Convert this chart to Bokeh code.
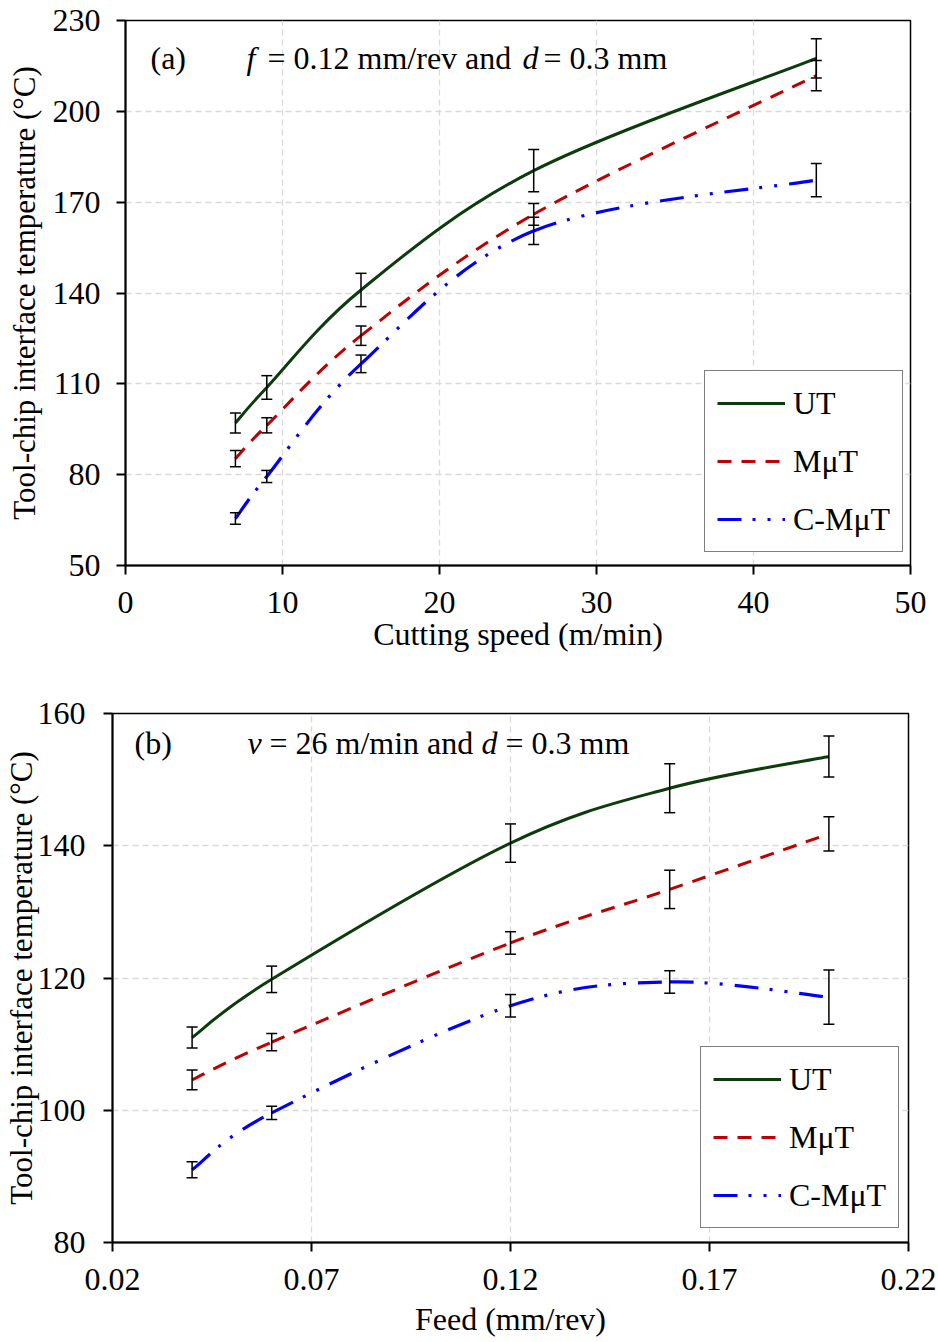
import numpy as np
from bokeh.plotting import figure
from bokeh.models import Range1d, FixedTicker, ColumnDataSource, Whisker, TeeHead, Label
from bokeh.embed import file_html
from bokeh.resources import INLINE

# ---------------- data ----------------
# (a) cutting speed series
speed = [7, 9, 15, 26, 44]
a_ut = [97.1, 108.8, 141.0, 180.4, 217.5]
a_ut_err = [3.3, 3.9, 5.5, 7.0, 6.5]
a_mut = [85.3, 96.3, 125.9, 166.0, 211.8]
a_mut_err = [2.7, 2.5, 3.2, 3.6, 5.0]
a_cmut = [65.5, 79.4, 116.6, 160.5, 177.3]
a_cmut_err = [1.9, 2.0, 2.9, 4.5, 5.5]

# (b) feed series
feed = [0.04, 0.06, 0.12, 0.16, 0.20]
b_ut = [111.0, 119.8, 140.4, 148.7, 153.5]
b_ut_err = [1.6, 2.0, 2.9, 3.7, 3.1]
b_mut = [104.6, 110.3, 125.3, 133.4, 141.8]
b_mut_err = [1.5, 1.3, 1.7, 2.9, 2.6]
b_cmut = [91.0, 99.6, 115.8, 119.4, 117.1]
b_cmut_err = [1.2, 1.0, 1.7, 1.7, 4.1]

series_names = ["UT", "M\u03bcT", "C-M\u03bcT"]

a_xticks = [0, 10, 20, 30, 40, 50]
a_xlabels = ["0", "10", "20", "30", "40", "50"]
a_yticks = [50, 80, 110, 140, 170, 200, 230]
a_ylabels = ["50", "80", "110", "140", "170", "200", "230"]
b_xticks = [0.02, 0.07, 0.12, 0.17, 0.22]
b_xlabels = ["0.02", "0.07", "0.12", "0.17", "0.22"]
b_yticks = [80, 100, 120, 140, 160]
b_ylabels = ["80", "100", "120", "140", "160"]

FONT = "Liberation Serif"
COLORS = ["#0c3c0c", "#c00000", "#0000ff"]
DASHES = ["solid", "14 10", "24 11 3 12 3 12"]
WIDTHS = [3, 3, 3.2]


def smooth_segments(x, y, t=1.0 / 6.0):
    """Cubic Bezier segments (Excel-like smoothed line) through the data points."""
    x = np.asarray(x, float)
    y = np.asarray(y, float)
    xp = np.concatenate([[x[0]], x, [x[-1]]])
    yp = np.concatenate([[y[0]], y, [y[-1]]])
    tx = (xp[2:] - xp[:-2]) * t
    ty = (yp[2:] - yp[:-2]) * t
    return dict(x0=x[:-1], y0=y[:-1], x1=x[1:], y1=y[1:],
                cx0=x[:-1] + tx[:-1], cy0=y[:-1] + ty[:-1],
                cx1=x[1:] - tx[1:], cy1=y[1:] - ty[1:])


def make_fig(height, xr, yr, xticks, xlabels, yticks, ylabels, xtitle,
             mbl, mbr, mbt, mbb, ylab_standoff, ytitle_standoff, xtitle_standoff):
    p = figure(width=938, height=height, x_range=Range1d(*xr), y_range=Range1d(*yr),
               output_backend="svg", toolbar_location=None,
               min_border_left=mbl, min_border_right=mbr,
               min_border_top=mbt, min_border_bottom=mbb,
               background_fill_color="white", border_fill_color="white")
    p.outline_line_color = "black"
    p.outline_line_width = 1.5
    p.xaxis.ticker = FixedTicker(ticks=xticks)
    p.yaxis.ticker = FixedTicker(ticks=yticks)
    p.xaxis.major_label_overrides = dict(zip(xticks, xlabels))
    p.yaxis.major_label_overrides = dict(zip(yticks, ylabels))
    for ax in (p.xaxis[0], p.yaxis[0]):
        ax.axis_line_width = 2
        ax.axis_line_color = "black"
        ax.major_tick_line_width = 2
        ax.major_tick_line_color = "black"
        ax.major_tick_out = 9
        ax.major_tick_in = 0
        ax.minor_tick_line_color = None
        ax.major_label_text_font = FONT
        ax.major_label_text_font_size = "32px"
        ax.major_label_text_color = "black"
        ax.axis_label_text_font = FONT
        ax.axis_label_text_font_style = "normal"
        ax.axis_label_text_color = "black"
    p.xaxis.axis_label = xtitle
    p.xaxis.axis_label_text_font_size = "32px"
    p.xaxis.major_label_standoff = 17
    p.xaxis.axis_label_standoff = xtitle_standoff
    p.yaxis.axis_label = "Tool-chip interface temperature (\u00b0C)"
    p.yaxis.axis_label_text_font_size = "31px"
    p.yaxis.major_label_standoff = ylab_standoff
    p.yaxis.axis_label_standoff = ytitle_standoff
    for g in (p.xgrid[0], p.ygrid[0]):
        g.grid_line_color = "#d9d9d9"
        g.grid_line_dash = "6 4"
        g.grid_line_width = 1.3
    return p


def add_series(p, x, ys, errs):
    for name, y, c, d, w in zip(series_names, ys, COLORS, DASHES, WIDTHS):
        src = ColumnDataSource(smooth_segments(x, y))
        p.bezier(x0="x0", y0="y0", x1="x1", y1="y1", cx0="cx0", cy0="cy0",
                 cx1="cx1", cy1="cy1", source=src, line_color=c, line_width=w,
                 line_dash=d, legend_label=name)
    for y, e in zip(ys, errs):
        wsrc = ColumnDataSource(dict(x=x, upper=[a + b for a, b in zip(y, e)],
                                     lower=[a - b for a, b in zip(y, e)]))
        wh = Whisker(source=wsrc, base="x", upper="upper", lower="lower",
                     line_color="black", line_width=1.5, level="annotation",
                     upper_head=TeeHead(size=11, line_color="black", line_width=1.5),
                     lower_head=TeeHead(size=11, line_color="black", line_width=1.5))
        p.add_layout(wh)


def style_legend(p, loc):
    lg = p.legend[0]
    lg.location = loc
    lg.margin = 0
    lg.label_text_font = FONT
    lg.label_text_font_size = "32px"
    lg.label_text_color = "black"
    lg.glyph_width = 68
    lg.glyph_height = 40
    lg.spacing = 18
    lg.padding = 12
    lg.label_standoff = 8
    lg.border_line_color = "black"
    lg.border_line_width = 1.5
    lg.background_fill_color = "white"
    lg.background_fill_alpha = 1.0


def add_note(p, xr, yr, pieces, dy):
    for txt, off, style in pieces:
        p.add_layout(Label(x=xr[0], y=yr[1], x_offset=off, y_offset=dy, text=txt,
                           text_font=FONT, text_font_size="32px", text_font_style=style,
                           text_color="black", text_baseline="middle", text_align="left"))


# ---------------- (a) ----------------
p1 = make_fig(665, (0, 50), (50, 230), a_xticks, a_xlabels, a_yticks, a_ylabels,
              "Cutting speed (m/min)", 125, 28, 20, 100, 16, 8, 0)
add_series(p1, speed, [a_ut, a_mut, a_cmut], [a_ut_err, a_mut_err, a_cmut_err])
style_legend(p1, (579, 13))
add_note(p1, (0, 50), (50, 230),
         [("(a)", 25, "normal"), ("f", 121, "italic"), ("= 0.12 mm/rev and", 142, "normal"),
          ("d", 397, "italic"), ("= 0.3 mm", 418, "normal")], -37)

# ---------------- (b) ----------------
p2 = make_fig(677, (0.02, 0.22), (80, 160), b_xticks, b_xlabels, b_yticks, b_ylabels,
              "Feed (mm/rev)", 110, 30, 48, 100, 18, -4, 8)
add_series(p2, feed, [b_ut, b_mut, b_cmut], [b_ut_err, b_mut_err, b_cmut_err])
style_legend(p2, (588, 14))
add_note(p2, (0.02, 0.22), (80, 160),
         [("(b)", 22, "normal"), ("v", 135, "italic"), ("= 26 m/min and", 157, "normal"),
          ("d", 369, "italic"), ("= 0.3 mm", 393, "normal")], -29)

open("out.html", "w").write(file_html([p1, p2], INLINE))
